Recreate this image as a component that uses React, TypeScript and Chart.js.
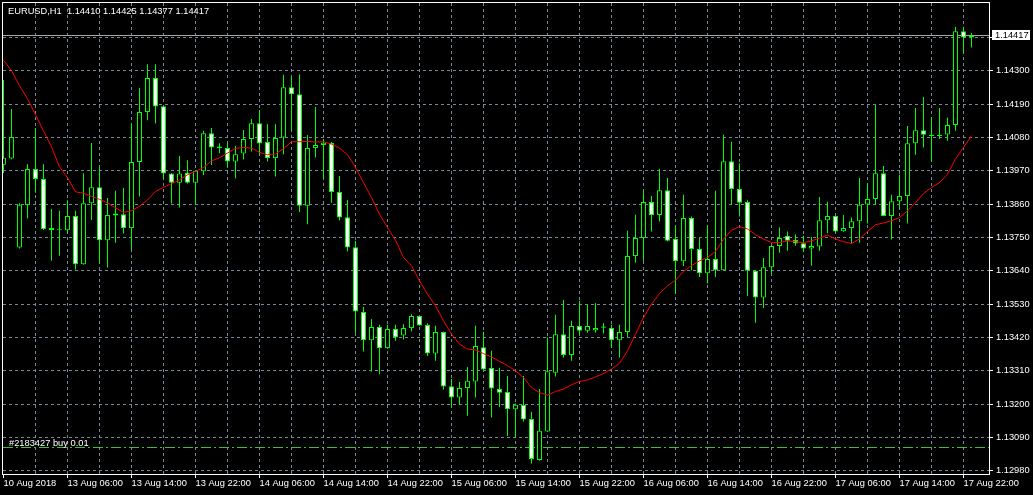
import React, { useEffect, useRef } from "react";
import { Chart, registerables } from "chart.js";

Chart.register(...registerables);

const symbolTitle = "EURUSD,H1  1.14410 1.14425 1.14377 1.14417";
const orderText = "#2183427 buy 0.01";
const orderPrice = 1.13056;

const timeLabels = [
  "10 Aug 2018", "13 Aug 06:00", "13 Aug 14:00", "13 Aug 22:00", "14 Aug 06:00", "14 Aug 14:00",
  "14 Aug 22:00", "15 Aug 06:00", "15 Aug 14:00", "15 Aug 22:00", "16 Aug 06:00", "16 Aug 14:00",
  "16 Aug 22:00", "17 Aug 06:00", "17 Aug 14:00", "17 Aug 22:00",
];

const priceTicks = [
  1.1298, 1.1309, 1.132, 1.1331, 1.1342, 1.1353, 1.1364, 1.1375, 1.1386, 1.1397, 1.1408, 1.1419, 1.143, 1.1441,
];

const opens = [
  1.13990, 1.14011, 1.13717, 1.13857, 1.13976, 1.13943, 1.13775, 1.13774, 1.13774, 1.13821,
  1.13662, 1.13863, 1.13916, 1.13741, 1.13823, 1.13827, 1.13781, 1.13999, 1.14164, 1.14276,
  1.14183, 1.13961, 1.13931, 1.13964, 1.13931, 1.13969, 1.14094, 1.14045, 1.14045, 1.14001,
  1.14027, 1.14075, 1.14127, 1.14065, 1.14012, 1.14080, 1.14246, 1.14223, 1.13855, 1.14045,
  1.14055, 1.14063, 1.13900, 1.13817, 1.13718, 1.13504, 1.13411, 1.13455, 1.13385, 1.13448,
  1.13427, 1.13451, 1.13491, 1.13461, 1.13367, 1.13438, 1.13259, 1.13222, 1.13253, 1.13275,
  1.13388, 1.13319, 1.13250, 1.13240, 1.13183, 1.13197, 1.13151, 1.13016, 1.13110, 1.13304,
  1.13431, 1.13362, 1.13458, 1.13442, 1.13444, 1.13452, 1.13451, 1.13411, 1.13438, 1.13689,
  1.13748, 1.13867, 1.13824, 1.13906, 1.13746, 1.13672, 1.13814, 1.13712, 1.13632, 1.13679,
  1.13642, 1.14002, 1.13910, 1.13867, 1.13640, 1.13552, 1.13652, 1.13722, 1.13756, 1.13742,
  1.13731, 1.13714, 1.13720, 1.13807, 1.13821, 1.13771, 1.13781, 1.13804, 1.13859, 1.13877,
  1.13962, 1.13821, 1.13870, 1.13887, 1.14061, 1.14104, 1.14085, 1.14085, 1.14090, 1.14121,
  1.14431, 1.14410,
];

const highs = [
  1.14270, 1.14174, 1.13863, 1.13992, 1.14111, 1.13992, 1.13844, 1.13838, 1.13873, 1.13838,
  1.13962, 1.14062, 1.13983, 1.13880, 1.13904, 1.13913, 1.14127, 1.14243, 1.14322, 1.14322,
  1.14185, 1.13962, 1.14019, 1.14005, 1.13971, 1.14102, 1.14111, 1.14061, 1.14063, 1.14053,
  1.14105, 1.14141, 1.14171, 1.14124, 1.14124, 1.14287, 1.14280, 1.14289, 1.14088, 1.14181,
  1.14075, 1.14065, 1.13953, 1.13874, 1.13739, 1.13521, 1.13481, 1.13462, 1.13462, 1.13462,
  1.13464, 1.13497, 1.13492, 1.13467, 1.13459, 1.13439, 1.13283, 1.13273, 1.13323, 1.13459,
  1.13439, 1.13376, 1.13320, 1.13293, 1.13202, 1.13293, 1.13175, 1.13250, 1.13420, 1.13495,
  1.13544, 1.13475, 1.13541, 1.13530, 1.13534, 1.13468, 1.13462, 1.13462, 1.13772, 1.13825,
  1.13906, 1.13887, 1.13977, 1.13946, 1.13789, 1.13891, 1.13819, 1.13748, 1.13789, 1.13904,
  1.14089, 1.14066, 1.13995, 1.13873, 1.13641, 1.13682, 1.13723, 1.13783, 1.13770, 1.13761,
  1.13756, 1.13752, 1.13884, 1.13868, 1.13822, 1.13824, 1.13816, 1.13946, 1.13929, 1.14187,
  1.13986, 1.13891, 1.13957, 1.14118, 1.14177, 1.14214, 1.14146, 1.14177, 1.14146, 1.14445,
  1.14445, 1.14425,
];

const lows = [
  1.13963, 1.14008, 1.13714, 1.13813, 1.13898, 1.13775, 1.13673, 1.13690, 1.13764, 1.13644,
  1.13660, 1.13808, 1.13665, 1.13651, 1.13733, 1.13763, 1.13712, 1.13885, 1.14137, 1.14126,
  1.13943, 1.13862, 1.13849, 1.13928, 1.13858, 1.13956, 1.13989, 1.14028, 1.13981, 1.13945,
  1.14007, 1.14034, 1.14025, 1.14001, 1.13951, 1.14025, 1.14102, 1.13834, 1.13794, 1.14014,
  1.13943, 1.13865, 1.13807, 1.13704, 1.13436, 1.13374, 1.13308, 1.13299, 1.13383, 1.13409,
  1.13413, 1.13440, 1.13459, 1.13359, 1.13343, 1.13248, 1.13189, 1.13198, 1.13162, 1.13222,
  1.13313, 1.13156, 1.13191, 1.13095, 1.13088, 1.13143, 1.13004, 1.13013, 1.13108, 1.13291,
  1.13354, 1.13343, 1.13429, 1.13436, 1.13436, 1.13433, 1.13385, 1.13354, 1.13422, 1.13667,
  1.13673, 1.13770, 1.13803, 1.13737, 1.13565, 1.13656, 1.13642, 1.13620, 1.13598, 1.13620,
  1.13640, 1.13857, 1.13819, 1.13557, 1.13469, 1.13517, 1.13629, 1.13700, 1.13706, 1.13723,
  1.13704, 1.13657, 1.13706, 1.13764, 1.13769, 1.13769, 1.13732, 1.13733, 1.13796, 1.13857,
  1.13820, 1.13743, 1.13844, 1.13796, 1.14023, 1.14047, 1.14001, 1.14075, 1.14069, 1.14102,
  1.14358, 1.14377,
];

const closes = [
  1.14013, 1.14082, 1.13858, 1.13976, 1.13943, 1.13778, 1.13781, 1.13774, 1.13821, 1.13662,
  1.13863, 1.13916, 1.13741, 1.13824, 1.13829, 1.13781, 1.13999, 1.14164, 1.14276, 1.14182,
  1.13961, 1.13931, 1.13961, 1.13931, 1.13970, 1.14094, 1.14047, 1.14050, 1.14001, 1.14025,
  1.14075, 1.14127, 1.14060, 1.14012, 1.14078, 1.14246, 1.14223, 1.13855, 1.14045, 1.14055,
  1.14063, 1.13900, 1.13816, 1.13717, 1.13506, 1.13411, 1.13455, 1.13385, 1.13448, 1.13420,
  1.13451, 1.13491, 1.13460, 1.13367, 1.13438, 1.13258, 1.13222, 1.13253, 1.13277, 1.13392,
  1.13314, 1.13252, 1.13238, 1.13183, 1.13198, 1.13149, 1.13019, 1.13112, 1.13309, 1.13431,
  1.13362, 1.13458, 1.13442, 1.13458, 1.13451, 1.13456, 1.13411, 1.13438, 1.13689, 1.13748,
  1.13867, 1.13824, 1.13906, 1.13739, 1.13672, 1.13814, 1.13712, 1.13632, 1.13679, 1.13642,
  1.14002, 1.13910, 1.13865, 1.13640, 1.13552, 1.13652, 1.13722, 1.13748, 1.13739, 1.13730,
  1.13714, 1.13722, 1.13807, 1.13821, 1.13770, 1.13781, 1.13804, 1.13858, 1.13877, 1.13962,
  1.13821, 1.13870, 1.13887, 1.14061, 1.14104, 1.14089, 1.14089, 1.14089, 1.14121, 1.14431,
  1.14410, 1.14417,
];

const maValues = [
  1.14335, 1.14300, 1.14251, 1.14208, 1.14155, 1.14102, 1.14049, 1.13983, 1.13947, 1.13901,
  1.13896, 1.13886, 1.13876, 1.13864, 1.13848, 1.13833, 1.13838, 1.13853, 1.13874, 1.13902,
  1.13916, 1.13927, 1.13940, 1.13957, 1.13968, 1.13981, 1.14003, 1.14013, 1.14029, 1.14044,
  1.14047, 1.14045, 1.14031, 1.14023, 1.14026, 1.14043, 1.14066, 1.14066, 1.14067, 1.14065,
  1.14066, 1.14058, 1.14045, 1.14023, 1.13981, 1.13931, 1.13882, 1.13827, 1.13783, 1.13741,
  1.13684, 1.13657, 1.13607, 1.13563, 1.13525, 1.13475, 1.13431, 1.13398, 1.13382, 1.13379,
  1.13367, 1.13356, 1.13341, 1.13327, 1.13310, 1.13288, 1.13255, 1.13238, 1.13230, 1.13242,
  1.13250, 1.13264, 1.13275, 1.13280, 1.13290, 1.13301, 1.13316, 1.13335, 1.13376, 1.13431,
  1.13486, 1.13530, 1.13565, 1.13591, 1.13609, 1.13638, 1.13657, 1.13673, 1.13684, 1.13704,
  1.13745, 1.13774, 1.13786, 1.13778, 1.13759, 1.13745, 1.13733, 1.13733, 1.13739, 1.13736,
  1.13733, 1.13739, 1.13748, 1.13758, 1.13745, 1.13736, 1.13730, 1.13745, 1.13770, 1.13792,
  1.13798, 1.13805, 1.13816, 1.13838, 1.13865, 1.13895, 1.13915, 1.13931, 1.13959, 1.14009,
  1.14047, 1.14086,
];

const FONT = "'Liberation Sans', Arial, sans-serif";
const FONT_SIZE = 9.3;
const GRID = "#778899";
const CANDLE = "#00ff00";

export default function App() {
  const ref = useRef<HTMLCanvasElement>(null);

  useEffect(() => {
    const canvas = ref.current;
    if (!canvas) return;
    const xMin = -0.0625;
    const xMax = 123.1875;
    const yMax = 1.1452385;
    const yMin = 1.1296955;
    const lastClose = closes[closes.length - 1];

    const decor = {
      id: "mt4Decor",
      beforeDraw(chart: any) {
        const { ctx, width, height } = chart;
        ctx.save();
        ctx.fillStyle = "#000000";
        ctx.fillRect(0, 0, width, height);
        ctx.restore();
      },
      beforeDatasetsDraw(chart: any) {
        const { ctx, chartArea: a, scales } = chart;
        const y = scales.y;
        ctx.save();
        ctx.lineWidth = 1;
        const by = Math.floor(y.getPixelForValue(lastClose)) + 0.5;
        ctx.strokeStyle = "#a8a8a8";
        ctx.beginPath();
        ctx.moveTo(a.left, by);
        ctx.lineTo(a.right, by);
        ctx.stroke();
        const oy = Math.floor(y.getPixelForValue(orderPrice)) + 0.5;
        ctx.strokeStyle = "#3cbf3c";
        ctx.setLineDash([10, 3, 2, 3]);
        ctx.beginPath();
        ctx.moveTo(a.left, oy);
        ctx.lineTo(a.right, oy);
        ctx.stroke();
        ctx.restore();
      },
      afterDatasetsDraw(chart: any) {
        const { ctx, chartArea: a } = chart;
        ctx.save();
        ctx.strokeStyle = "#ffffff";
        ctx.lineWidth = 1;
        ctx.strokeRect(a.left - 0.5, a.top - 0.5, a.right - a.left + 1, a.bottom - a.top + 1);
        ctx.restore();
      },
      afterDraw(chart: any) {
        const { ctx, chartArea: a, scales } = chart;
        const y = scales.y;
        ctx.save();
        ctx.font = `${FONT_SIZE}px ${FONT}`;
        ctx.textBaseline = "alphabetic";
        ctx.textAlign = "left";
        ctx.fillStyle = "#ffffff";
        ctx.fillText(symbolTitle, 8, 14);
        const oy = Math.floor(y.getPixelForValue(orderPrice));
        ctx.fillText(orderText, 9, oy - 1);
        const py = y.getPixelForValue(lastClose);
        const top = Math.round(py) - 5;
        ctx.fillStyle = "#ffffff";
        ctx.fillRect(a.right + 3, top, 38, 10);
        ctx.fillStyle = "#000000";
        ctx.textBaseline = "middle";
        ctx.fillText(lastClose.toFixed(5), a.right + 6, top + 5.5);
        ctx.restore();
      },
    };

    const bodyColors = opens.map((o, i) => (closes[i] >= o ? "#000000" : "#ffffff"));

    const chart = new Chart(canvas, {
      type: "bar",
      data: {
        datasets: [
          {
            type: "line",
            label: "MA",
            data: maValues.map((v, i) => ({ x: i, y: v })),
            borderColor: "#ff0000",
            borderWidth: 1,
            pointRadius: 0,
            tension: 0,
            order: 0,
          } as any,
          {
            type: "bar",
            label: "body",
            data: opens.map((o, i) => ({ x: i, y: [o, closes[i]] })),
            backgroundColor: bodyColors,
            borderColor: CANDLE,
            borderWidth: 1,
            borderSkipped: false,
            grouped: false,
            maxBarThickness: 5,
            minBarLength: 1,
            inflateAmount: 0,
            order: 1,
          } as any,
          {
            type: "bar",
            label: "wick",
            data: lows.map((l, i) => ({ x: i, y: [l, highs[i]] })),
            backgroundColor: CANDLE,
            borderWidth: 0,
            grouped: false,
            maxBarThickness: 1,
            minBarLength: 1,
            inflateAmount: 0,
            order: 2,
          } as any,
        ],
      },
      options: {
        responsive: false,
        animation: false,
        devicePixelRatio: 1,
        layout: { padding: { left: 3, top: 3, right: 0, bottom: 0 } },
        plugins: { legend: { display: false }, tooltip: { enabled: false }, title: { display: false } },
        scales: {
          x: {
            type: "linear",
            position: "bottom",
            offset: false,
            min: xMin,
            max: xMax,
            afterBuildTicks: (s: any) => {
              const t = [];
              for (let v = 0; v <= 120; v += 4) t.push({ value: v });
              s.ticks = t;
            },
            afterFit: (s: any) => {
              s.height = 21;
              s.paddingLeft = 0;
              s.paddingRight = 0;
            },
            grid: {
              offset: false,
              color: (c: any) => (c.index === 0 ? "rgba(0,0,0,0)" : GRID),
              lineWidth: 1,
              drawTicks: true,
              tickLength: 4,
              tickColor: (c: any) => (c.index % 2 === 0 ? "#ffffff" : "rgba(0,0,0,0)"),
            },
            border: { display: false, dash: [3, 3] },
            ticks: {
              autoSkip: false,
              maxRotation: 0,
              minRotation: 0,
              align: "start",
              padding: 0,
              color: "#ffffff",
              font: { family: FONT, size: FONT_SIZE },
              callback: (v: any) => {
                const k = Math.round(Number(v));
                return k % 8 === 0 ? timeLabels[k / 8] : "";
              },
            },
          } as any,
          y: {
            type: "linear",
            position: "right",
            min: yMin,
            max: yMax,
            afterBuildTicks: (s: any) => {
              s.ticks = priceTicks.map((v) => ({ value: v }));
            },
            afterFit: (s: any) => {
              s.width = 44;
              s.paddingTop = 0;
              s.paddingBottom = 0;
            },
            grid: {
              color: GRID,
              lineWidth: 1,
              drawTicks: true,
              tickLength: 4,
              tickColor: "#ffffff",
            },
            border: { display: false, dash: [3, 3] },
            ticks: {
              autoSkip: false,
              padding: 3,
              color: "#ffffff",
              font: { family: FONT, size: FONT_SIZE },
              callback: (v: any) => (Math.abs(Number(v) - 1.1441) < 1e-7 ? "" : Number(v).toFixed(5)),
            },
          } as any,
        },
      },
      plugins: [decor],
    });

    return () => chart.destroy();
  }, []);

  return (
    <div style={{ position: "absolute", left: 0, top: 0, width: 1033, height: 495, background: "#000" }}>
      <canvas ref={ref} width={1033} height={495} style={{ display: "block" }} />
    </div>
  );
}
